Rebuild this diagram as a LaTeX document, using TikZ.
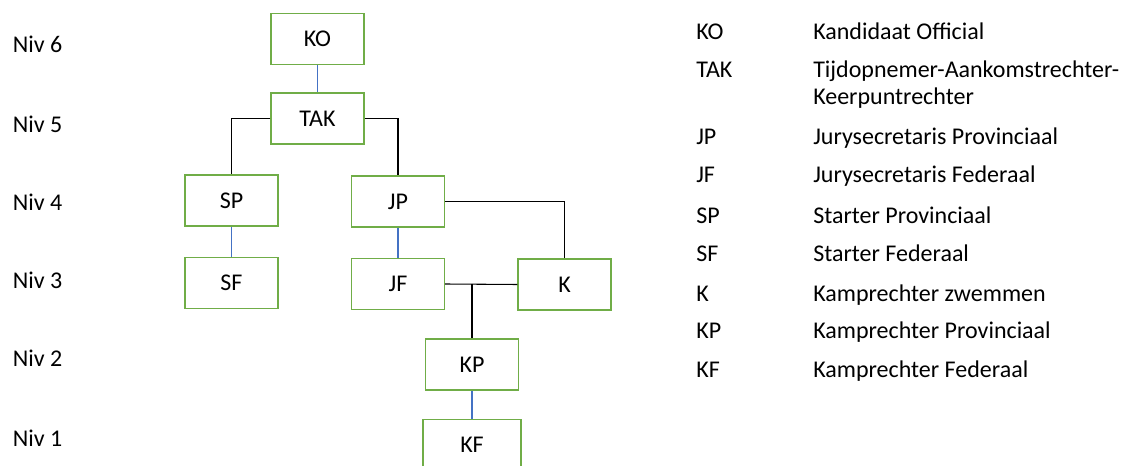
\documentclass[tikz,border=0pt]{standalone}
\usepackage{fontspec}
\setmainfont{Carlito}
\definecolor{boxgreen}{HTML}{70AD47}
\definecolor{lineblue}{HTML}{4472C4}

\begin{document}
\begin{tikzpicture}[x=0.75pt,y=-0.75pt,
  font=\fontsize{18}{19.5}\selectfont,
  box/.style={draw=boxgreen,line width=1pt,minimum width=69.75pt,minimum height=38.25pt,inner sep=0pt},
  blueline/.style={draw=lineblue,line width=0.8pt},
  blackline/.style={draw=black,line width=0.8pt}]
\useasboundingbox (0,0) rectangle (1123,466);

% Level labels on the left
\foreach \n/\y in {6/52.3,5/132.7,4/210.7,3/288.7,2/366.7,1/446}
  \node[anchor=base west,inner sep=0pt] (N\n) at (12.7,\y) {Niv \n};

% Draw the boxes
\node[box] (KO)  at (317.5,38.8)  {KO};
\node[box] (TAK) at (317.5,118.5) {TAK};
\node[box] (SP)  at (231.5,200.5) {SP};
\node[box] (JP)  at (398,201.5)   {JP};
\node[box] (SF)  at (231.5,283)   {SF};
\node[box] (JF)  at (398,284)     {JF};
\node[box] (K)   at (564.5,284.5) {K};
\node[box] (KP)  at (472,364.5)   {KP};
\node[box,minimum width=73.5pt] (KF) at (472,445) {KF};

% Junction of the JF--K line
\coordinate (J) at (KP.north |- JF.east);

% Blue links between the levels
\draw[blueline] (KO.south) -- (TAK.north);
\draw[blueline] (SP.south) -- (SF.north);
\draw[blueline] (JP.south) -- (JF.north);
\draw[blueline] (KP.south) -- (KF.north);

% Black elbow links
\draw[blackline] (TAK.west) -| (SP.north);
\draw[blackline] (TAK.east) -| (JP.north);
\draw[blackline] (JP.east) -| (K.north);
\draw[blackline] (JF.east) -- (K.west);
\draw[blackline] (J) -- (KP.north);

% Legend
\foreach \a/\t/\y in {KO/Kandidaat Official/39.5,
                      JP/Jurysecretaris Provinciaal/145,
                      JF/Jurysecretaris Federaal/182.5,
                      SP/Starter Provinciaal/224,
                      SF/Starter Federaal/262,
                      K/Kamprechter zwemmen/301,
                      KP/Kamprechter Provinciaal/339,
                      KF/Kamprechter Federaal/377.5}{
  \node[anchor=base west,inner sep=0pt] (L\a) at (696,\y) {\a};
  \node[anchor=base west,inner sep=0pt] (D\a) at (813,\y) {\t};
}
\node[anchor=base west,inner sep=0pt] (LTAK) at (696,78) {TAK};
\node[anchor=base west,inner sep=0pt] (DTAK) at (813,78) {Tijdopnemer-Aankomstrechter-};
\node[anchor=base west,inner sep=0pt] (DTAK2) at (813,104.3) {Keerpuntrechter};

\end{tikzpicture}
\end{document}
